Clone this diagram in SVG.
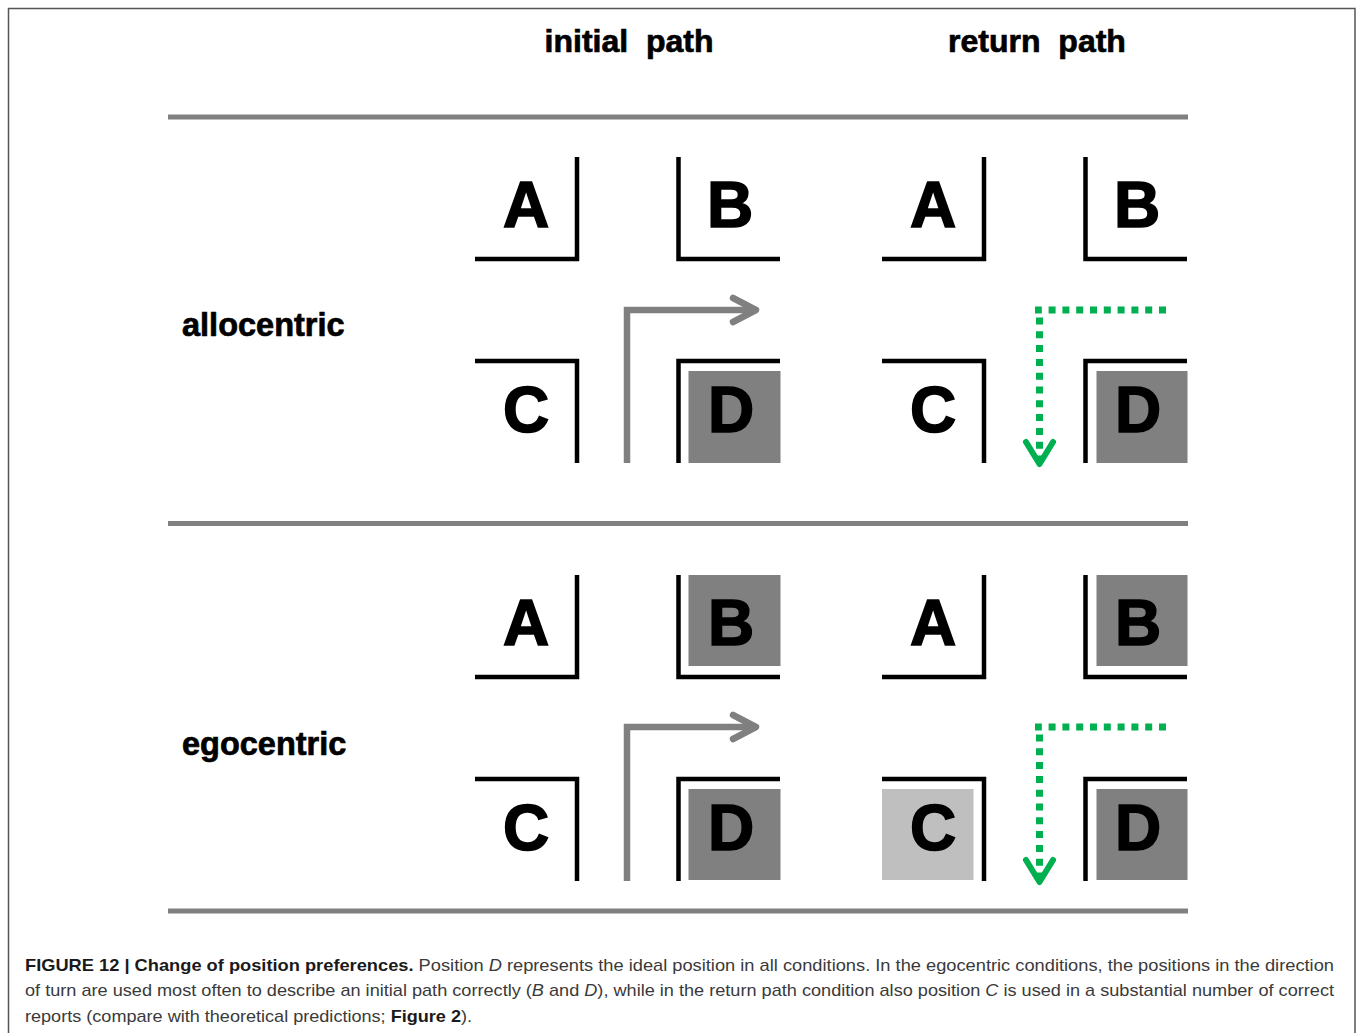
<svg xmlns="http://www.w3.org/2000/svg" width="1357" height="1033" viewBox="0 0 1357 1033">
<style>
.hdr{font-family:"Liberation Sans",Arial,sans-serif;font-weight:bold;font-size:32px;fill:#000;stroke:#000;stroke-width:0.7}
.side{font-size:32.5px}
.lbl{font-family:"Liberation Sans",Arial,sans-serif;font-weight:bold;font-size:64px;fill:#000;stroke:#000;stroke-width:1.6;text-anchor:middle}
.wall{stroke:#000;stroke-width:4.5;fill:none;stroke-linecap:butt}
.sep{stroke:#808080;stroke-width:5;fill:none}
.dark{fill:#808080}
.light{fill:#bfbfbf}
.gpath{stroke:#808080;stroke-width:6.5;fill:none;stroke-linejoin:miter}
.ghead{stroke:#808080;stroke-width:6.5;fill:none;stroke-linecap:round;stroke-linejoin:round}
.dots{stroke:#00b050;stroke-width:7;fill:none;stroke-dasharray:7 6.8}
.dhead{stroke:#00b050;stroke-width:6;fill:none;stroke-linecap:round;stroke-linejoin:round}
.cap{font-family:"Liberation Sans",Arial,sans-serif;font-size:17px;fill:#3a3a3a}
.capb{font-weight:bold;fill:#1a1a1a}
</style>
<rect x="8.5" y="8.5" width="1346.5" height="1040" fill="#fff" stroke="#555" stroke-width="1.5"/>
<g id="headers">
<text class="hdr" x="629" y="52" text-anchor="middle" xml:space="preserve">initial  path</text>
<text class="hdr" x="1037" y="52" text-anchor="middle" xml:space="preserve">return  path</text>
<text class="hdr side" x="182" y="336">allocentric</text>
<text class="hdr side" x="182" y="755">egocentric</text>
</g>
<g id="separators">
<line class="sep" x1="168" y1="117" x2="1188" y2="117"/>
<line class="sep" x1="168" y1="523.5" x2="1188" y2="523.5"/>
<line class="sep" x1="168" y1="911" x2="1188" y2="911"/>
</g>
<!-- allocentric initial -->
<g id="allo-init-A"><path class="wall" d="M475,259 H577 V157"/><text class="lbl" x="526" y="227">A</text></g>
<g id="allo-init-B"><path class="wall" d="M780,259 H678.5 V157"/><text class="lbl" x="730" y="227">B</text></g>
<g id="allo-init-C"><path class="wall" d="M475,361 H577 V463"/><text class="lbl" x="526" y="432">C</text></g>
<g id="allo-init-D"><rect class="dark" x="688.5" y="371" width="92" height="92"/><path class="wall" d="M780,361 H678.5 V463"/><text class="lbl" x="731" y="432">D</text></g>
<!-- allocentric return -->
<g id="allo-ret-A"><path class="wall" d="M882,259 H984 V157"/><text class="lbl" x="933" y="227">A</text></g>
<g id="allo-ret-B"><path class="wall" d="M1187,259 H1085.5 V157"/><text class="lbl" x="1137" y="227">B</text></g>
<g id="allo-ret-C"><path class="wall" d="M882,361 H984 V463"/><text class="lbl" x="933" y="432">C</text></g>
<g id="allo-ret-D"><rect class="dark" x="1096.5" y="371" width="91" height="92"/><path class="wall" d="M1187,361 H1085.5 V463"/><text class="lbl" x="1138" y="432">D</text></g>
<!-- egocentric initial -->
<g id="ego-init-A"><path class="wall" d="M475,677 H577 V575"/><text class="lbl" x="526" y="645">A</text></g>
<g id="ego-init-B"><rect class="dark" x="688.5" y="575" width="92" height="91"/><path class="wall" d="M780,677 H678.5 V575"/><text class="lbl" x="731" y="645">B</text></g>
<g id="ego-init-C"><path class="wall" d="M475,779 H577 V881"/><text class="lbl" x="526" y="850">C</text></g>
<g id="ego-init-D"><rect class="dark" x="688.5" y="789" width="92" height="91"/><path class="wall" d="M780,779 H678.5 V881"/><text class="lbl" x="731" y="850">D</text></g>
<!-- egocentric return -->
<g id="ego-ret-A"><path class="wall" d="M882,677 H984 V575"/><text class="lbl" x="933" y="645">A</text></g>
<g id="ego-ret-B"><rect class="dark" x="1096.5" y="575" width="91" height="91"/><path class="wall" d="M1187,677 H1085.5 V575"/><text class="lbl" x="1138" y="645">B</text></g>
<g id="ego-ret-C"><rect class="light" x="882" y="789" width="91.5" height="91"/><path class="wall" d="M882,779 H984 V881"/><text class="lbl" x="933" y="850">C</text></g>
<g id="ego-ret-D"><rect class="dark" x="1096.5" y="789" width="91" height="91"/><path class="wall" d="M1187,779 H1085.5 V881"/><text class="lbl" x="1138" y="850">D</text></g>
<g id="connectors">
<path class="gpath" d="M627,463 V310 H756"/>
<path class="ghead" d="M733,298 L756,310 L733,322"/>
<path class="gpath" d="M627,881 V727 H756"/>
<path class="ghead" d="M733,715 L756,727 L733,739"/>
<path class="dots" d="M1166,310 H1035"/>
<path class="dots" d="M1039.5,317.5 V460"/>
<path class="dhead" d="M1026,442 L1039.5,464 L1053,442"/>
<path class="dots" d="M1166,727 H1035"/>
<path class="dots" d="M1039.5,734.5 V877"/>
<path class="dhead" d="M1026,860 L1039.5,882 L1053,860"/>
</g>
<g id="caption">
<text class="cap" x="25" y="971" textLength="1309" lengthAdjust="spacingAndGlyphs"><tspan class="capb">FIGURE 12 | Change of position preferences.</tspan> Position <tspan font-style="italic">D</tspan> represents the ideal position in all conditions. In the egocentric conditions, the positions in the direction</text>
<text class="cap" x="25" y="996" textLength="1309" lengthAdjust="spacingAndGlyphs">of turn are used most often to describe an initial path correctly (<tspan font-style="italic">B</tspan> and <tspan font-style="italic">D</tspan>), while in the return path condition also position <tspan font-style="italic">C</tspan> is used in a substantial number of correct</text>
<text class="cap" x="25" y="1022" textLength="447" lengthAdjust="spacingAndGlyphs">reports (compare with theoretical predictions; <tspan class="capb">Figure 2</tspan>).</text>
</g>
</svg>
